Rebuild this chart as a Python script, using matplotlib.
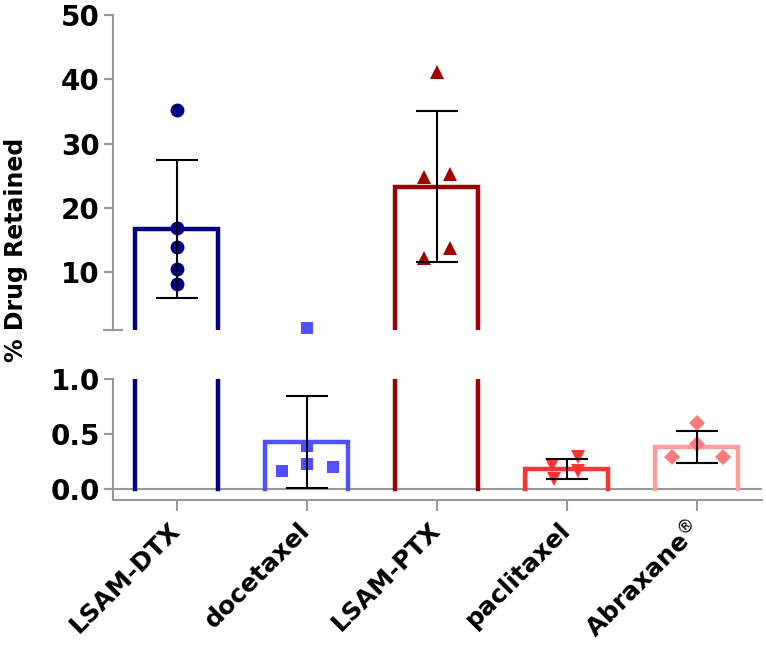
import numpy as np
import matplotlib
matplotlib.use('Agg')
import matplotlib.pyplot as plt

# groups, bar heights (mean) and SD error bars
groups = ['LSAM-DTX', 'docetaxel', 'LSAM-PTX', 'paclitaxel', r'Abraxane$^{\circledR}$']
means = [16.7, 0.43, 23.3, 0.18, 0.385]
sds = [10.8, 0.42, 11.7, 0.09, 0.145]

# individual points per group
pts_dtx = [35.2, 16.9, 13.9, 10.5, 8.2]
pts_doc = [1.3, 0.39, 0.23, 0.16, 0.20]
pts_ptx = [41.1, 24.8, 25.3, 13.8, 12.2]
pts_pac = [0.29, 0.22, 0.16, 0.09]
pts_abx = [0.60, 0.41, 0.29, 0.29]
points = [pts_dtx, pts_doc, pts_ptx, pts_pac, pts_abx]

# horizontal scatter spread of the points (x units)
spread_dtx = [0, 0, 0, 0, 0]
spread_doc = [0, 0, 0, -0.19, 0.2]
spread_ptx = [0, -0.1, 0.1, 0.1, -0.1]
spread_pac = [0.09, -0.11, 0.09, -0.1]
spread_abx = [0, 0, -0.19, 0.2]
spreads = [spread_dtx, spread_doc, spread_ptx, spread_pac, spread_abx]

bar_colors = ['#000080', '#5050ff', '#a00000', '#ff3333', '#ff9c9c']
pt_colors = ['#000080', '#5050ff', '#a00000', '#ff3333', '#ff7a7a']
markers = ['o', 's', '^', 'v', 'D']
msizes = [10, 9, 10, 10, 8]

grey = '#999999'
bw = 0.64
brk = 1.0  # value where the axis is broken

fig = plt.figure(figsize=(7.66, 6.45), dpi=100)
ax_top = fig.add_axes([0.1475, 0.4884, 0.847, 0.4884])
ax_bot = fig.add_axes([0.1475, 0.2248, 0.847, 0.1876])

x = np.arange(len(groups))

for ax, upper in ((ax_top, True), (ax_bot, False)):
    for i in range(len(groups)):
        h = means[i]
        ax.plot([x[i] - bw/2, x[i] - bw/2, x[i] + bw/2, x[i] + bw/2], [0, h, h, 0],
                color=bar_colors[i], lw=3.2, solid_joinstyle='miter', zorder=2)
        px = x[i] + np.array(spreads[i])
        py = np.array(points[i])
        keep = py > brk if upper else py <= brk
        ax.plot(px[keep], py[keep], linestyle='none', marker=markers[i],
                ms=msizes[i], color=pt_colors[i], markeredgewidth=0,
                zorder=3, clip_on=False)
    ax.set_xlim(-0.49, 4.5)
    for s in ['top', 'right']:
        ax.spines[s].set_visible(False)
    ax.spines['left'].set_color(grey)
    ax.spines['left'].set_linewidth(1.5)
    ax.spines['bottom'].set_color(grey)
    ax.spines['bottom'].set_linewidth(1.5)
    ax.tick_params(axis='both', colors=grey, width=1.5, length=6.5, pad=3,
                   labelcolor='black')

# error bars drawn in the panel where the bar top lives
for i in range(len(groups)):
    ax = ax_top if means[i] > brk else ax_bot
    ax.errorbar(x[i], means[i], yerr=sds[i], fmt='none', ecolor='black',
                elinewidth=1.5, capsize=15, capthick=1.5, zorder=4)

ax_top.set_ylim(brk, 50)
ax_top.set_yticks([10, 20, 30, 40, 50])
ax_top.set_yticks([brk], minor=True)
ax_top.tick_params(axis='y', which='minor', direction='inout', length=14,
                   width=1.5, colors=grey)
ax_top.spines['bottom'].set_visible(False)
ax_top.set_xticks([])
ax_top.set_yticklabels(['10', '20', '30', '40', '50'], fontweight='bold', fontsize=20)

ax_bot.set_ylim(-0.1, brk)
ax_bot.set_yticks([0.0, 0.5, 1.0])
ax_bot.set_yticklabels(['0.0', '0.5', '1.0'], fontweight='bold', fontsize=20)
ax_bot.set_yticks([brk], minor=True)
ax_bot.tick_params(axis='y', which='minor', direction='inout', length=14,
                   width=1.5, colors=grey)
ax_bot.axhline(0, color=grey, lw=1.5, zorder=1)
ax_bot.set_xticks(x)
ax_bot.set_xticklabels(groups, rotation=45, ha='right', va='center',
                       rotation_mode='anchor', fontweight='bold', fontsize=18)
ax_bot.tick_params(axis='x', length=8, pad=11)

fig.text(0.021, 0.613, '% Drug Retained', rotation=90, ha='center', va='center',
         fontsize=17, fontweight='bold')

fig.savefig('out.png', dpi=100)
